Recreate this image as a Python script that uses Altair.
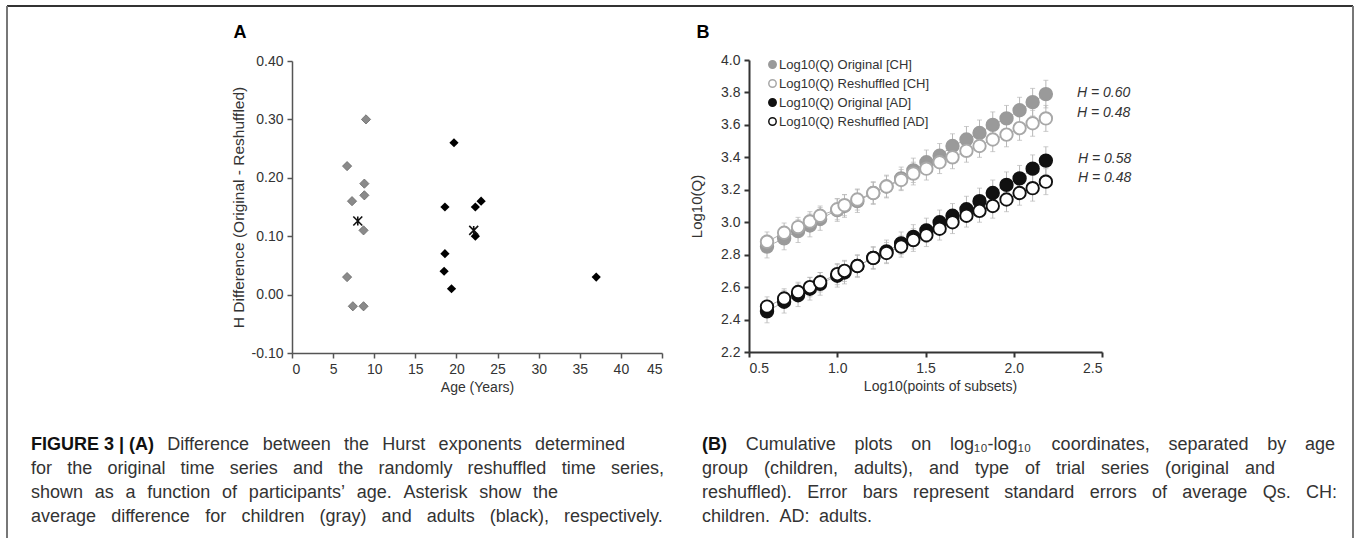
import altair as alt
import pandas as pd

# ---------------- Panel A data ----------------
child_age = [6.7, 7.3, 8.8, 8.8, 8.7, 9.0, 6.7, 7.4, 8.7]
child_hdiff = [0.22, 0.16, 0.19, 0.17, 0.11, 0.30, 0.03, -0.02, -0.02]
adult_age = [19.7, 18.6, 22.3, 23.0, 22.3, 18.6, 18.5, 19.4, 37.0]
adult_hdiff = [0.26, 0.15, 0.15, 0.16, 0.10, 0.07, 0.04, 0.01, 0.03]
mean_age = [8.0, 22.1]
mean_hdiff = [0.126, 0.110]
a_x_ticks = [0, 5, 10, 15, 20, 25, 30, 35, 40, 45]
a_y_ticks = [-0.10, 0.0, 0.10, 0.20, 0.30, 0.40]

# ---------------- Panel B data ----------------
log_points = [0.602, 0.699, 0.778, 0.845, 0.903, 1.000, 1.041, 1.114, 1.204, 1.279, 1.362,
              1.431, 1.505, 1.580, 1.653, 1.732, 1.806, 1.881, 1.959, 2.033, 2.107, 2.182]
ch_orig = [2.85, 2.90, 2.945, 2.98, 3.02, 3.075, 3.10, 3.13, 3.18, 3.22, 3.27,
           3.32, 3.37, 3.41, 3.47, 3.51, 3.55, 3.60, 3.64, 3.69, 3.74, 3.79]
ch_resh = [2.88, 2.935, 2.97, 3.005, 3.04, 3.08, 3.105, 3.14, 3.18, 3.22, 3.26,
           3.30, 3.33, 3.37, 3.40, 3.44, 3.47, 3.51, 3.54, 3.58, 3.61, 3.64]
ad_orig = [2.45, 2.51, 2.55, 2.59, 2.62, 2.67, 2.69, 2.73, 2.78, 2.82, 2.87,
           2.91, 2.95, 3.00, 3.04, 3.08, 3.13, 3.18, 3.23, 3.27, 3.33, 3.38]
ad_resh = [2.48, 2.53, 2.57, 2.60, 2.63, 2.68, 2.70, 2.73, 2.78, 2.81, 2.85,
           2.89, 2.92, 2.96, 3.00, 3.04, 3.07, 3.10, 3.14, 3.18, 3.21, 3.25]
ch_orig_se = [0.07, 0.07, 0.07, 0.07, 0.07, 0.07, 0.07, 0.07, 0.07, 0.07, 0.07,
              0.075, 0.075, 0.075, 0.075, 0.08, 0.08, 0.08, 0.08, 0.08, 0.085, 0.085]
ch_resh_se = [0.06, 0.06, 0.06, 0.06, 0.06, 0.065, 0.065, 0.065, 0.065, 0.065, 0.065,
              0.07, 0.07, 0.07, 0.07, 0.07, 0.07, 0.075, 0.075, 0.075, 0.08, 0.08]
ad_orig_se = [0.07, 0.07, 0.07, 0.07, 0.07, 0.07, 0.07, 0.07, 0.07, 0.07, 0.07,
              0.075, 0.075, 0.075, 0.075, 0.08, 0.08, 0.08, 0.08, 0.08, 0.085, 0.085]
ad_resh_se = [0.06, 0.06, 0.06, 0.06, 0.06, 0.065, 0.065, 0.065, 0.065, 0.065, 0.065,
              0.07, 0.07, 0.07, 0.07, 0.07, 0.07, 0.075, 0.075, 0.075, 0.08, 0.08]
series_names = ["Log10(Q) Original [CH]", "Log10(Q) Reshuffled [CH]",
                "Log10(Q) Original [AD]", "Log10(Q) Reshuffled [AD]"]
series_fill = ["#9a9a9a", "#ffffff", "#111111", "#ffffff"]
series_stroke = ["#9a9a9a", "#a8a8a8", "#111111", "#111111"]
b_x_ticks = [0.5, 1.0, 1.5, 2.0, 2.5]
b_y_ticks = [2.2, 2.4, 2.6, 2.8, 3.0, 3.2, 3.4, 3.6, 3.8, 4.0]
h_labels = ["H = 0.60", "H = 0.48", "H = 0.58", "H = 0.48"]

# ---------------- Caption (two justified columns) ----------------
cap_lines = [
    # (bold prefix, regular text, left x, right x, y)
    ("FIGURE 3 | (A)", "Difference between the Hurst exponents determined", 31, 625, 445),
    ("", "for the original time series and the randomly reshuffled time series,", 31, 664, 469),
    ("", "shown as a function of participants\u2019 age. Asterisk show the", 31, 558, 493),
    ("", "average difference for children (gray) and adults (black), respectively.", 31, 664, 517),
    ("(B)", "Cumulative plots on log\u2081\u2080-log\u2081\u2080 coordinates, separated by age", 702, 1335, 445),
    ("", "group (children, adults), and type of trial series (original and", 702, 1275, 469),
    ("", "reshuffled). Error bars represent standard errors of average Qs. CH:", 702, 1337, 493),
    ("", "children. AD: adults.", 702, 872, 517),
]
CAP_SIZE = 18

FONT = "Liberation Sans"

# Arial / Liberation Sans advance widths (per 1000 em)
W_REG = {" ": 278, "(": 333, ")": 333, ",": 278, "-": 333, ".": 278, ":": 278, "'": 191,
         "\u2019": 222, "\u2081": 400, "\u2080": 400, "|": 260, "[": 278, "]": 278,
         "A": 667, "B": 667, "C": 722, "D": 722, "E": 667, "F": 611, "G": 778, "H": 722,
         "I": 278, "J": 500, "K": 667, "L": 556, "M": 833, "N": 722, "O": 778, "P": 667,
         "Q": 778, "R": 722, "S": 667, "T": 611, "U": 722, "V": 667, "W": 944, "X": 667,
         "Y": 667, "Z": 611, "a": 556, "b": 556, "c": 500, "d": 556, "e": 556, "f": 278,
         "g": 556, "h": 556, "i": 222, "j": 222, "k": 500, "l": 222, "m": 833, "n": 556,
         "o": 556, "p": 556, "q": 556, "r": 333, "s": 500, "t": 278, "u": 556, "v": 500,
         "w": 722, "x": 500, "y": 500, "z": 500}
W_BOLD = {" ": 278, "(": 333, ")": 333, "|": 280, "3": 556, "A": 722, "B": 722, "E": 667,
          "F": 611, "G": 778, "I": 278, "R": 722, "U": 722}


def text_width(s, size, bold=False):
    tbl = W_BOLD if bold else W_REG
    return sum(tbl.get(ch, 556) for ch in s) / 1000.0 * size


word_rows = []
for bold_prefix, regular, x0, x1, yy in cap_lines:
    tokens = []
    if bold_prefix:
        tokens.append((bold_prefix, True))
    tokens += [(w, False) for w in regular.split(" ")]
    widths = [text_width(t, CAP_SIZE, b) for t, b in tokens]
    gap = (x1 - x0 - sum(widths)) / max(len(tokens) - 1, 1)
    xpos = x0
    for (t, b), w in zip(tokens, widths):
        word_rows.append({"word": t, "x": xpos, "y": yy, "bold": b})
        xpos += w + gap
df_words = pd.DataFrame(word_rows)

dummy = pd.DataFrame({"d": [0]})


def text_layer(txt, x, y, size, weight="normal", style="normal", align="left",
               font=FONT, color="#222222"):
    return alt.Chart(dummy).mark_text(
        text=txt, align=align, baseline="middle", fontSize=size, fontWeight=weight,
        fontStyle=style, font=font, color=color
    ).encode(x=alt.value(x), y=alt.value(y))


# ---------------- Panel A ----------------
xA = alt.X("age:Q", scale=alt.Scale(domain=[0, 45], range=[292, 662], nice=False, zero=False),
           axis=alt.Axis(orient="bottom", offset=-185, values=a_x_ticks, format="d",
                         title="Age (Years)", titlePadding=4, domainColor="#555555",
                         tickColor="#555555"))
yA = alt.Y("hdiff:Q", scale=alt.Scale(domain=[-0.1, 0.4], range=[353, 61], nice=False, zero=False),
           axis=alt.Axis(orient="left", offset=-292, values=a_y_ticks,
                         labelExpr="replace(format(datum.value, '.2f'), '\u2212', '-')",
                         title="H Difference (Original - Reshuffled)", titlePadding=5,
                         titleFontSize=15.5, domainColor="#555555", tickColor="#555555"))

dfA_c = pd.DataFrame({"age": child_age, "hdiff": child_hdiff})
dfA_a = pd.DataFrame({"age": adult_age, "hdiff": adult_hdiff})
dfA_m = pd.DataFrame({"age": mean_age, "hdiff": mean_hdiff})

a_child = alt.Chart(dfA_c).mark_point(shape="diamond", filled=True, size=85, opacity=1,
                                      color="#8a8a8a", stroke="#6a6a6a", strokeWidth=0.8
                                      ).encode(x=xA, y=yA)
a_adult = alt.Chart(dfA_a).mark_point(shape="diamond", filled=True, size=85, opacity=1,
                                      color="#000000").encode(x=xA, y=yA)
a_mean = alt.Chart(dfA_m).mark_point(shape="M-1,-1L1,1M-1,1L1,-1M0,-1L0,1", size=80, opacity=1,
                                     filled=False, stroke="#111111", strokeWidth=1.6
                                     ).encode(x=xA, y=yA)
layerA = alt.layer(a_child, a_adult, a_mean)

# ---------------- Panel B ----------------
rows = []
for name, vals, ses in zip(series_names, [ch_orig, ch_resh, ad_orig, ad_resh],
                           [ch_orig_se, ch_resh_se, ad_orig_se, ad_resh_se]):
    for xv, v, s in zip(log_points, vals, ses):
        rows.append({"series": name, "logn": xv, "logq": v, "lo": v - s, "hi": v + s})
dfB = pd.DataFrame(rows)

xB = alt.X("logn:Q", scale=alt.Scale(domain=[0.5, 2.5], range=[749, 1102], nice=False, zero=False),
           axis=alt.Axis(orient="bottom", offset=-186, values=b_x_ticks, format=".1f",
                         title="Log10(points of subsets)", titlePadding=4, titleX=940,
                         domainWidth=2, tickWidth=2, domainColor="#333333", tickColor="#333333"))
yB_axis = alt.Axis(orient="left", offset=-749, values=b_y_ticks, format=".1f",
                   title="Log10(Q)", titlePadding=16, titleFontSize=15, domainWidth=2, tickWidth=2,
                   domainColor="#333333", tickColor="#333333")
yB_scale = alt.Scale(domain=[2.2, 4.0], range=[352, 60], nice=False, zero=False)

legend_def = alt.Legend(orient="none", legendX=766, legendY=58, title=None,
                        symbolType="circle", symbolSize=55, symbolStrokeWidth=1.5,
                        labelFontSize=13, labelFont=FONT, labelColor="#333333",
                        rowPadding=4, labelOffset=0, padding=0)

b_err = alt.Chart(dfB).mark_rule(color="#b8b8b8", strokeWidth=1).encode(
    x=xB, y=alt.Y("lo:Q", scale=yB_scale, axis=yB_axis), y2="hi:Q")
b_cap_hi = alt.Chart(dfB).mark_tick(color="#b8b8b8", orient="horizontal", size=5, thickness=1).encode(
    x=xB, y=alt.Y("hi:Q", scale=yB_scale, axis=yB_axis))
b_cap_lo = alt.Chart(dfB).mark_tick(color="#b8b8b8", orient="horizontal", size=5, thickness=1).encode(
    x=xB, y=alt.Y("lo:Q", scale=yB_scale, axis=yB_axis))
b_line = alt.Chart(dfB).mark_line(color="#b0b0b0", strokeWidth=1).encode(
    x=xB, y=alt.Y("logq:Q", scale=yB_scale, axis=yB_axis), detail="series:N")
b_pts = alt.Chart(dfB).mark_point(shape="circle", size=155, strokeWidth=1.9, opacity=1).encode(
    x=xB, y=alt.Y("logq:Q", scale=yB_scale, axis=yB_axis),
    fill=alt.Fill("series:N", scale=alt.Scale(domain=series_names, range=series_fill),
                  legend=legend_def),
    stroke=alt.Stroke("series:N", scale=alt.Scale(domain=series_names, range=series_stroke),
                      legend=legend_def))
layerB = alt.layer(b_err, b_cap_hi, b_cap_lo, b_line, b_pts)

# ---------------- Annotations ----------------
annotations = [
    text_layer("A", 240, 33, 18, weight="bold", align="center", color="#000000"),
    text_layer("B", 703, 33, 18, weight="bold", align="center", color="#000000"),
    text_layer(h_labels[0], 1077, 93, 14, style="italic", color="#333333"),
    text_layer(h_labels[1], 1077, 113, 14, style="italic", color="#333333"),
    text_layer(h_labels[2], 1078, 159, 14, style="italic", color="#333333"),
    text_layer(h_labels[3], 1078, 178, 14, style="italic", color="#333333"),
]

cap_regular = alt.Chart(df_words).transform_filter("!datum.bold").mark_text(
    align="left", baseline="middle", fontSize=CAP_SIZE, font=FONT, color="#333333"
).encode(x=alt.X("x:Q", scale=None, axis=None), y=alt.Y("y:Q", scale=None, axis=None), text="word:N")
cap_bold = alt.Chart(df_words).transform_filter("datum.bold").mark_text(
    align="left", baseline="middle", fontSize=CAP_SIZE, font=FONT, fontWeight="bold", color="#111111"
).encode(x=alt.X("x:Q", scale=None, axis=None), y=alt.Y("y:Q", scale=None, axis=None), text="word:N")

# border lines
border_top = alt.Chart(dummy).mark_rule(color="#333333", strokeWidth=2).encode(
    x=alt.value(7), x2=alt.value(1353), y=alt.value(6))
border_left = alt.Chart(dummy).mark_rule(color="#777777", strokeWidth=2).encode(
    x=alt.value(7), y=alt.value(6), y2=alt.value(538))
border_right = alt.Chart(dummy).mark_rule(color="#777777", strokeWidth=2).encode(
    x=alt.value(1353), y=alt.value(6), y2=alt.value(538))

chart = alt.layer(layerA, layerB, border_top, border_left, border_right, cap_regular, cap_bold,
                  *annotations).resolve_scale(
    x="independent", y="independent"
).properties(
    width=1357, height=538, padding=0, autosize=alt.AutoSizeParams(type="none")
).configure_view(stroke=None).configure_axis(
    labelFont=FONT, labelFontSize=14, labelColor="#333333", titleFont=FONT, titleFontSize=14,
    titleFontWeight="normal", titleColor="#333333", grid=False, tickSize=5, labelPadding=4,
    domainWidth=1.5, tickWidth=1.5
)

chart.save("out.html", embed_options={"renderer": "svg", "actions": False})
